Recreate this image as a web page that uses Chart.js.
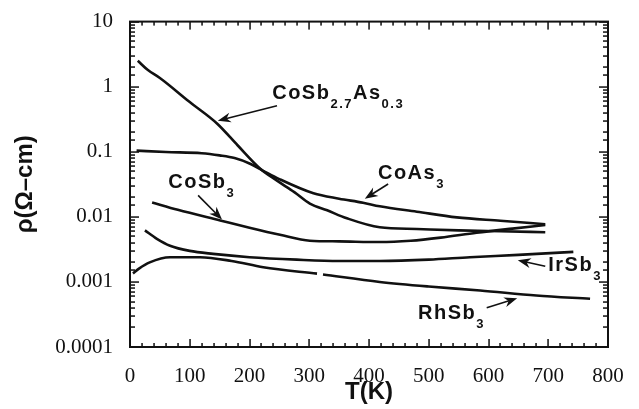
<!DOCTYPE html>
<html>
<head>
<meta charset="utf-8">
<script src="https://cdn.jsdelivr.net/npm/chart.js@4.4.1/dist/chart.umd.min.js"></script>
<style>
  html, body { margin: 0; background: #fff; }
  #wrap { width: 639px; height: 409px; }
</style>
</head>
<body>
<div id="wrap"><canvas id="chart"></canvas></div>
<script>
/* Resistivity vs temperature for skutterudites (log scale). */

const INK = '#111';
const SANS = "'Liberation Sans', Arial, sans-serif";
const SERIF = "'Liberation Serif', 'Times New Roman', serif";

// T (K) and rho (ohm-cm)
const tCoSbAs = [13, 30, 50, 100, 146, 180, 218, 246, 275, 301, 330, 363, 418, 480, 550, 620, 695];
const rhoCoSbAs = [2.5, 1.8, 1.36, 0.58, 0.27, 0.126, 0.055, 0.036, 0.024, 0.016, 0.0126, 0.0095, 0.0069, 0.0065, 0.0062, 0.006, 0.0058];

const tCoAs = [11, 60, 120, 150, 175, 200, 223, 250, 307, 350, 390, 418, 480, 547, 620, 695];
const rhoCoAs = [0.104, 0.099, 0.095, 0.088, 0.08, 0.066, 0.051, 0.038, 0.023, 0.019, 0.0165, 0.0145, 0.012, 0.0098, 0.0087, 0.0077];

const tCoSb = [37, 80, 151, 200, 251, 301, 350, 418, 470, 520, 580, 640, 695];
const rhoCoSb = [0.0166, 0.0128, 0.0088, 0.0068, 0.0053, 0.0043, 0.0042, 0.0041, 0.0043, 0.0048, 0.0057, 0.0066, 0.0075];

const tIrSb = [25, 45, 67, 100, 139, 200, 279, 350, 418, 500, 569, 650, 742];
const rhoIrSb = [0.0062, 0.0046, 0.0036, 0.003, 0.0027, 0.0024, 0.0022, 0.0021, 0.0021, 0.0022, 0.0024, 0.0026, 0.0029];

const tRhSb = [5, 15, 33, 67, 117, 170, 223, 313, 318, 323, 418, 500, 586, 680, 770];
const rhoRhSb = [0.00135, 0.0016, 0.002, 0.0024, 0.0024, 0.0021, 0.00168, 0.00134, null, 0.0013, 0.001, 0.00085, 0.00074, 0.00062, 0.00055];

const xTickLabels = ['0', '100', '200', '300', '400', '500', '600', '700', '800'];
const yTickLabels = ['0.0001', '0.001', '0.01', '0.1', '1', '10'];

// curve labels: text parts [text, isSubscript], anchor and arrow in data units
const notes = [
  { parts: [['CoSb', 0], ['2.7', 1], ['As', 0], ['0.3', 1]], at: [238, 0.78], from: [246, 0.51], to: [147, 0.30] },
  { parts: [['CoAs', 0], ['3', 1]], at: [415, 0.046], from: [432, 0.032], to: [393, 0.019] },
  { parts: [['CoSb', 0], ['3', 1]], at: [64, 0.034], from: [114, 0.0214], to: [154, 0.0091] },
  { parts: [['IrSb', 0], ['3', 1]], at: [700, 0.0018], from: [695, 0.00174], to: [649, 0.00215] },
  { parts: [['RhSb', 0], ['3', 1]], at: [482, 0.00033], from: [597, 0.0004], to: [648, 0.00056] },
];

const pts = (xs, ys) => xs.map((x, i) => ({ x, y: ys[i] }));
const isDecade = (v) => Math.abs(Math.log10(v) - Math.round(Math.log10(v))) < 1e-6;

const curve = (data) => ({
  data,
  borderColor: INK,
  borderWidth: 2.6,
  pointRadius: 0,
  fill: false,
  spanGaps: false,
  cubicInterpolationMode: 'monotone',
});

// box round the plot with inward tick marks on all four sides
const frame = {
  id: 'frame',
  afterDraw(chart) {
    const { ctx, chartArea: a } = chart;
    const xs = chart.scales.x, ys = chart.scales.y;
    ctx.save();
    ctx.fillStyle = INK;
    xs.ticks.forEach(t => {
      const px = Math.round(xs.getPixelForValue(t.value));
      const len = t.value % 100 === 0 ? 8 : 4;
      ctx.fillRect(px - 0.7, a.bottom - len, 1.5, len);
      ctx.fillRect(px - 0.7, a.top, 1.5, len);
    });
    ys.ticks.forEach(t => {
      const py = Math.round(ys.getPixelForValue(t.value));
      const len = isDecade(t.value) ? 9 : 5;
      ctx.fillRect(a.left, py - 0.7, len, 1.5);
      ctx.fillRect(a.right - len, py - 0.7, len, 1.5);
    });
    ctx.strokeStyle = INK;
    ctx.lineWidth = 2;
    ctx.strokeRect(a.left, a.top, a.right - a.left, a.bottom - a.top);
    ctx.restore();
  },
};

const curveLabels = {
  id: 'curveLabels',
  afterDraw(chart) {
    const { ctx } = chart;
    const xs = chart.scales.x, ys = chart.scales.y;
    ctx.save();
    ctx.fillStyle = INK;
    ctx.strokeStyle = INK;
    ctx.textBaseline = 'middle';
    ctx.letterSpacing = '1.5px';
    notes.forEach(n => {
      let px = xs.getPixelForValue(n.at[0]);
      const py = ys.getPixelForValue(n.at[1]);
      n.parts.forEach(([txt, sub]) => {
        ctx.font = sub ? `bold 13px ${SANS}` : `bold 20px ${SANS}`;
        ctx.fillText(txt, px, sub ? py + 11 : py);
        px += ctx.measureText(txt).width;
      });
      // arrow
      const x1 = xs.getPixelForValue(n.from[0]), y1 = ys.getPixelForValue(n.from[1]);
      const x2 = xs.getPixelForValue(n.to[0]), y2 = ys.getPixelForValue(n.to[1]);
      const ang = Math.atan2(y2 - y1, x2 - x1);
      const c = Math.cos(ang), s = Math.sin(ang);
      ctx.lineWidth = 1.6;
      ctx.beginPath();
      ctx.moveTo(x1, y1);
      ctx.lineTo(x2 - 6 * c, y2 - 6 * s);
      ctx.stroke();
      ctx.beginPath();
      ctx.moveTo(x2, y2);
      ctx.lineTo(x2 - 13 * c + 5 * s, y2 - 13 * s - 5 * c);
      ctx.lineTo(x2 - 9 * c, y2 - 9 * s);
      ctx.lineTo(x2 - 13 * c - 5 * s, y2 - 13 * s + 5 * c);
      ctx.closePath();
      ctx.fill();
    });
    ctx.restore();
  },
};

new Chart(document.getElementById('chart'), {
  type: 'line',
  data: {
    datasets: [
      curve(pts(tCoSbAs, rhoCoSbAs)),
      curve(pts(tCoAs, rhoCoAs)),
      curve(pts(tCoSb, rhoCoSb)),
      curve(pts(tIrSb, rhoIrSb)),
      curve(pts(tRhSb, rhoRhSb)),
    ],
  },
  options: {
    responsive: true,
    maintainAspectRatio: false,
    animation: false,
    layout: { padding: { left: 0, right: 31, top: 8, bottom: 0 } },
    plugins: { legend: { display: false }, tooltip: { enabled: false } },
    scales: {
      x: {
        type: 'linear',
        min: 0,
        max: 800,
        afterFit: s => { s.height = 62; },
        grid: { display: false },
        border: { display: false },
        ticks: {
          stepSize: 20,
          autoSkip: false,
          maxRotation: 0,
          padding: 9,
          color: INK,
          font: { family: SERIF, size: 21 },
          callback: v => (v % 100 === 0 ? xTickLabels[v / 100] : ''),
        },
        title: {
          display: true,
          text: 'T(K)',
          color: INK,
          font: { family: SANS, size: 24, weight: 'bold' },
          padding: { top: 0, bottom: 2 },
        },
      },
      y: {
        type: 'logarithmic',
        min: 0.0001,
        max: 10,
        afterFit: s => { s.width = 130; },
        grid: { display: false },
        border: { display: false },
        ticks: {
          autoSkip: false,
          padding: 9,
          color: INK,
          font: { family: SERIF, size: 21 },
          callback: v => (isDecade(v) ? yTickLabels[Math.round(Math.log10(v)) + 4] : ''),
        },
        title: {
          display: true,
          text: 'ρ(Ω–cm)',
          color: INK,
          font: { family: SANS, size: 24, weight: 'bold' },
          padding: { top: 11, bottom: 0 },
        },
      },
    },
  },
  plugins: [frame, curveLabels],
});
</script>
</body>
</html>
